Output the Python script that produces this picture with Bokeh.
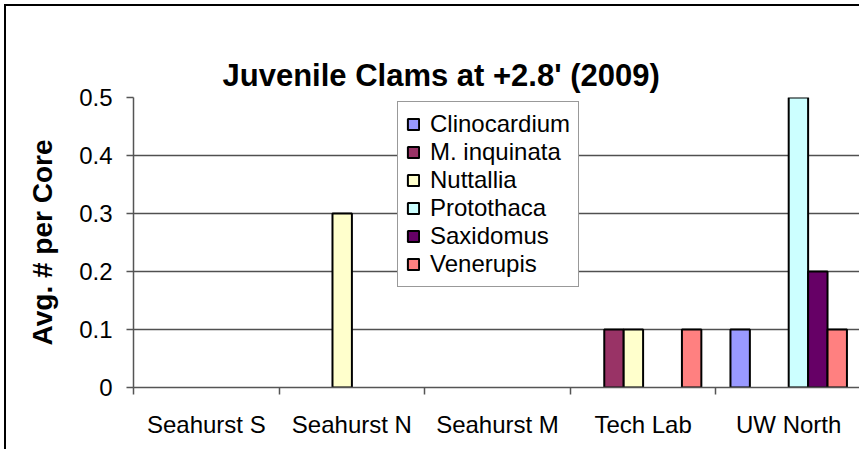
from bokeh.plotting import figure
from bokeh.models import (Range1d, FixedTicker, Legend, LegendItem, ColumnDataSource,
                          LinearAxis)
from bokeh.transform import dodge
from bokeh.embed import file_html
from bokeh.resources import INLINE

# ---- data ----
sites = ["Seahurst S", "Seahurst N", "Seahurst M", "Tech Lab", "UW North"]
species = ["Clinocardium", "M. inquinata", "Nuttallia", "Protothaca", "Saxidomus", "Venerupis"]
clinocardium = [0, 0, 0, 0, 0.1]
m_inquinata = [0, 0, 0, 0.1, 0]
nuttallia = [0, 0.3, 0, 0.1, 0]
protothaca = [0, 0, 0, 0, 0.5]
saxidomus = [0, 0, 0, 0, 0.2]
venerupis = [0, 0, 0, 0.1, 0.1]
colors = ["#9999FF", "#993366", "#FFFFCC", "#CCFFFF", "#660066", "#FF8080"]
y_ticks = [0, 0.1, 0.2, 0.3, 0.4, 0.5]
y_tick_labels = ["0", "0.1", "0.2", "0.3", "0.4", "0.5"]
title_text = "Juvenile Clams at +2.8' (2009)"
y_label = "Avg. # per Core"

FONT = "Liberation Sans"
AXIS_COLOR = "#555555"

# category slots: site i occupies [i, i+1] on the x scale
centers = [i + 0.5 for i in range(len(sites))]
bounds = list(range(len(sites) + 1))

p = figure(x_range=Range1d(bounds[0], bounds[-1]),
           y_range=Range1d(y_ticks[0], y_ticks[-1]),
           width=855, height=445, output_backend="svg", toolbar_location=None,
           min_border_left=127, min_border_right=0, min_border_top=91,
           min_border_bottom=64)
p.styles = {"margin-left": "4px", "margin-top": "4px",
            "border-left": "2px solid black", "border-top": "2px solid black"}
p.outline_line_color = None
p.background_fill_color = "white"
p.border_fill_color = "white"

# the real bottom axis (created by figure)
xa = p.below[0]

# invisible spacer between the frame and the title
spacer = LinearAxis(ticker=FixedTicker(ticks=[]), axis_line_color=None,
                    major_tick_line_color=None, minor_tick_line_color=None,
                    major_tick_out=34, major_tick_in=0, minor_tick_out=0,
                    minor_tick_in=0, major_label_standoff=0)
p.add_layout(spacer, "above")

# title
p.title.text = title_text
p.title.text_font = FONT
p.title.text_font_size = "31px"
p.title.text_font_style = "bold"
p.title.text_color = "black"
p.title.align = "left"
p.title.offset = 89
p.title.standoff = 10

# x axis: labels at group centres, ticks at group boundaries
xa.ticker = FixedTicker(ticks=centers, minor_ticks=bounds)
xa.major_label_overrides = {c: s for c, s in zip(centers, sites)}
xa.major_tick_line_color = None
xa.major_tick_out = 0
xa.major_tick_in = 0
xa.minor_tick_line_color = AXIS_COLOR
xa.minor_tick_line_width = 1.5
xa.minor_tick_out = 7
xa.minor_tick_in = 0
xa.axis_line_color = AXIS_COLOR
xa.axis_line_width = 1.5
xa.major_label_text_font = FONT
xa.major_label_text_font_size = "24px"
xa.major_label_text_color = "black"
xa.major_label_standoff = 16

# y axis
ya = p.left[0]
ya.ticker = FixedTicker(ticks=y_ticks)
ya.major_label_overrides = dict(zip(y_ticks, y_tick_labels))
ya.major_label_text_font = FONT
ya.major_label_text_font_size = "24px"
ya.major_label_text_color = "black"
ya.major_label_standoff = 14
ya.major_tick_out = 7
ya.major_tick_in = 0
ya.major_tick_line_color = AXIS_COLOR
ya.major_tick_line_width = 1.5
ya.minor_tick_line_color = None
ya.axis_line_color = AXIS_COLOR
ya.axis_line_width = 1.5
ya.axis_label = y_label
ya.axis_label_text_font = FONT
ya.axis_label_text_font_size = "28px"
ya.axis_label_text_font_style = "bold"
ya.axis_label_text_color = "black"
ya.axis_label_standoff = 18

p.xgrid.grid_line_color = None
p.ygrid.ticker = FixedTicker(ticks=y_ticks)
p.ygrid.grid_line_color = "#505050"
p.ygrid.grid_line_width = 1.5

# bars
values = [clinocardium, m_inquinata, nuttallia, protothaca, saxidomus, venerupis]
n = len(species)
w = 0.8 / n
items = []
for k, (name, vals, col) in enumerate(zip(species, values, colors)):
    off = -0.4 + w * (k + 0.5)
    xs = [c for c, v in zip(centers, vals) if v > 0]
    ts = [v for v in vals if v > 0]
    src = ColumnDataSource(dict(pos=xs, top=ts))
    r = p.vbar(x=dodge("pos", off), top="top", bottom=0,
               width=w, source=src, fill_color=col, line_color="black",
               line_width=2)
    items.append(LegendItem(label=name, renderers=[r]))

legend = Legend(items=items, location=(264, 100))
legend.label_text_font = FONT
legend.label_text_font_size = "24px"
legend.label_text_color = "black"
legend.glyph_width = 14
legend.glyph_height = 14
legend.label_standoff = 10
legend.label_height = 26
legend.spacing = -2
legend.padding = 8
legend.margin = 0
legend.border_line_color = "#333333"
legend.border_line_width = 1.5
legend.background_fill_color = "white"
legend.background_fill_alpha = 1
p.add_layout(legend)

with open("out.html", "w") as f:
    f.write(file_html(p, INLINE))
